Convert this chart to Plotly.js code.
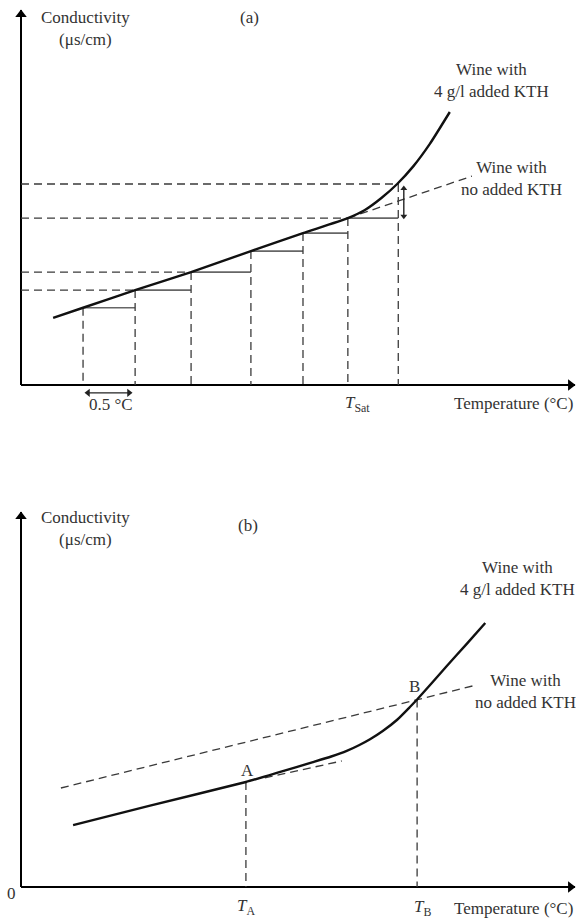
<!DOCTYPE html>
<html>
<head>
<meta charset="utf-8">
<script src="https://cdn.plot.ly/plotly-3.0.1.min.js"></script>
<style>html,body{margin:0;padding:0;background:#fff;}#chart{width:576px;height:920px;}</style>
</head>
<body>
<div id="chart"></div>
<script>
// ---------- Panel (a) data (arbitrary temperature / conductivity units) ----------
const stepT_a = [1.12, 2.06, 3.07, 4.15, 5.09, 5.90, 6.81];      // step temperatures (0.5 °C increments)
const stepC_a = [20.6, 25.3, 30.1, 35.7, 40.5, 44.5, 53.6];      // conductivity read at each step
const guideIdx_a = [1, 2, 5, 6];                                   // steps with dashed guide to the y axis
const curveT_a = [0.58, 1.12, 2.06, 3.07, 4.15, 5.09, 5.90, 6.20, 6.50, 6.79, 7.08, 7.38, 7.74];
const curveC_a = [17.9, 20.6, 25.3, 30.1, 35.7, 40.5, 44.5, 46.6, 49.8, 53.6, 58.3, 64.3, 72.8];
const noKthT_a = [5.90, 8.14];
const noKthC_a = [44.5, 55.7];
const tSat_a = 5.90;
const stepWidthT_a = [1.21, 1.95];   // the "0.5 °C" span marker

// ---------- Panel (b) data ----------
const curveT_b = [0.94, 2.33, 4.06, 4.68, 5.27, 5.60, 5.88, 6.10, 6.30, 6.53, 6.79, 7.02, 7.15, 7.69, 8.05, 8.38];
const curveC_b = [16.5, 21.7, 28.0, 30.7, 33.3, 34.8, 36.3, 37.8, 39.4, 41.6, 44.6, 48.0, 50.0, 59.0, 64.9, 70.4];
const noKthT_b = [0.72, 8.23];
const noKthC_b = [26.4, 53.9];
const tangentT_b = [4.40, 5.79];
const tangentC_b = [29.1, 33.6];
const pointLabels_b = ['A', 'B'];
const pointT_b = [4.06, 7.15];
const pointC_b = [28.0, 50.0];

// axis extents (both panels)
const axisT = [0, 10];
const axisC = [0, 100];

const FONT = 'Liberation Serif, Times New Roman, serif';
const TXT = '#333333';
const DASH = '8px,5px';
const GUIDE = '#3a3a3a';
const FS = 17;

const traces = [];
const skip = {hoverinfo: 'skip', showlegend: false};

function axesFor(xa, ya) {
  // axis lines
  traces.push(Object.assign({x: [axisT[0], axisT[0], null, axisT[0], axisT[1]], y: [axisC[1], axisC[0], null, axisC[0], axisC[0]],
    xaxis: xa, yaxis: ya, mode: 'lines', line: {color: '#000', width: 2}, cliponaxis: false}, skip));
  // arrowheads
  traces.push(Object.assign({x: [axisT[0], axisT[1] - 0.08], y: [axisC[1] - 1.2, axisC[0]], xaxis: xa, yaxis: ya,
    mode: 'markers', marker: {symbol: ['triangle-up', 'triangle-right'], size: 10, color: '#000'}, cliponaxis: false}, skip));
}

// --- panel (a) ---
axesFor('x', 'y');
{
  const x = [], y = [];
  for (let i = 0; i < stepT_a.length - 1; i++) {
    x.push(stepT_a[i], stepT_a[i + 1], null);
    y.push(stepC_a[i], stepC_a[i], null);
  }
  traces.push(Object.assign({x, y, xaxis: 'x', yaxis: 'y', mode: 'lines', line: {color: '#666', width: 1.6}}, skip));
}
{
  const x = [], y = [];
  for (let i = 0; i < stepT_a.length; i++) {
    x.push(stepT_a[i], stepT_a[i], null);
    y.push(stepC_a[i], 0, null);
  }
  traces.push(Object.assign({x, y, xaxis: 'x', yaxis: 'y', mode: 'lines', line: {color: GUIDE, width: 1.3, dash: DASH}}, skip));
}
{
  const x = [], y = [];
  guideIdx_a.forEach(i => { x.push(0, stepT_a[i], null); y.push(stepC_a[i], stepC_a[i], null); });
  traces.push(Object.assign({x, y, xaxis: 'x', yaxis: 'y', mode: 'lines', line: {color: GUIDE, width: 1.3, dash: DASH}}, skip));
}
traces.push(Object.assign({x: noKthT_a, y: noKthC_a, xaxis: 'x', yaxis: 'y', mode: 'lines', line: {color: GUIDE, width: 1.3, dash: DASH}}, skip));
traces.push(Object.assign({x: curveT_a, y: curveC_a, xaxis: 'x', yaxis: 'y', mode: 'lines', line: {color: '#111', width: 2.4, shape: 'spline', smoothing: 0.5}}, skip));
// 0.5 °C double arrow
traces.push(Object.assign({x: stepWidthT_a, y: [-2.1, -2.1], xaxis: 'x', yaxis: 'y', mode: 'lines+markers', cliponaxis: false,
  line: {color: '#222', width: 1.4}, marker: {symbol: ['triangle-left', 'triangle-right'], size: 7, color: '#222'}}, skip));
// vertical double arrow between the two upper readings
const vArrowT = stepT_a[6] + 0.1;
traces.push(Object.assign({x: [vArrowT, vArrowT], y: [stepC_a[5] + 0.5, stepC_a[6] - 1.2], xaxis: 'x', yaxis: 'y', mode: 'lines+markers', cliponaxis: false,
  line: {color: '#222', width: 1.4}, marker: {symbol: ['triangle-down', 'triangle-up'], size: 6, color: '#222'}}, skip));

// --- panel (b) ---
axesFor('x2', 'y2');
traces.push(Object.assign({x: noKthT_b, y: noKthC_b, xaxis: 'x2', yaxis: 'y2', mode: 'lines', line: {color: GUIDE, width: 1.3, dash: DASH}}, skip));
traces.push(Object.assign({x: tangentT_b, y: tangentC_b, xaxis: 'x2', yaxis: 'y2', mode: 'lines', line: {color: GUIDE, width: 1.3, dash: DASH}}, skip));
{
  const x = [], y = [];
  pointT_b.forEach((t, i) => { x.push(t, t, null); y.push(pointC_b[i], 0, null); });
  traces.push(Object.assign({x, y, xaxis: 'x2', yaxis: 'y2', mode: 'lines', line: {color: GUIDE, width: 1.3, dash: DASH}}, skip));
}
traces.push(Object.assign({x: curveT_b, y: curveC_b, xaxis: 'x2', yaxis: 'y2', mode: 'lines', line: {color: '#111', width: 2.4, shape: 'spline', smoothing: 0.5}}, skip));

const hidden = {showgrid: false, zeroline: false, showticklabels: false, showline: false, ticks: '', fixedrange: true};

function txt(xref, yref, x, y, text, extra) {
  return Object.assign({xref, yref, x, y, text, showarrow: false, font: {family: FONT, size: FS, color: TXT}}, extra || {});
}

const annotations = [
  // panel (a)
  txt('x', 'y', 1.16, 95, 'Conductivity<br>(μs/cm)'),
  txt('x', 'y', 4.13, 98.1, '(a)'),
  txt('x', 'y', 8.50, 81.3, 'Wine with<br>4 g/l added KTH'),
  txt('x', 'y', 8.86, 55.2, 'Wine with<br>no added KTH'),
  txt('x', 'y', 1.62, -5.3, '0.5 °C'),
  txt('x', 'y', tSat_a + 0.18, -5.1, '<i>T</i><sub>Sat</sub>'),
  txt('x', 'y', 10.0, -4.8, 'Temperature (°C)', {xanchor: 'right'}),
  // panel (b)
  txt('x2', 'y2', 1.16, 95.5, 'Conductivity<br>(μs/cm)'),
  txt('x2', 'y2', 4.10, 96.3, '(b)'),
  txt('x2', 'y2', 8.96, 82.4, 'Wine with<br>4 g/l added KTH'),
  txt('x2', 'y2', 9.10, 52.2, 'Wine with<br>no added KTH'),
  txt('x2', 'y2', pointT_b[0] + 0.02, pointC_b[0] + 3.2, pointLabels_b[0]),
  txt('x2', 'y2', pointT_b[1] - 0.05, pointC_b[1] + 3.4, pointLabels_b[1]),
  txt('x2', 'y2', pointT_b[0], -5.3, '<i>T</i><sub>A</sub>'),
  txt('x2', 'y2', pointT_b[1] + 0.1, -5.5, '<i>T</i><sub>B</sub>'),
  txt('x2', 'y2', 10.0, -5.6, 'Temperature (°C)', {xanchor: 'right'}),
  txt('x2', 'y2', -0.17, -1.6, '0'),
];

// pixel geometry: 55.4 px per temperature unit, 3.75 px per conductivity unit
const H = 920;
const yA = {range: [-10, 100], topPx: 10};
const yB = {range: [-8.5, 100], topPx: 512};
function domainOf(ax) {
  const bottomPx = ax.topPx + (ax.range[1] - ax.range[0]) * 3.75;
  return [(H - bottomPx) / H, (H - ax.topPx) / H];
}

const layout = {
  width: 576, height: 920,
  margin: {l: 0, r: 1, t: 0, b: 0},
  paper_bgcolor: '#fff', plot_bgcolor: 'rgba(0,0,0,0)',
  showlegend: false,
  xaxis: Object.assign({range: [-21 / 55.4, 10], domain: [0, 1], anchor: 'y'}, hidden),
  yaxis: Object.assign({range: yA.range, domain: domainOf(yA), anchor: 'x'}, hidden),
  xaxis2: Object.assign({range: [-21 / 55.4, 10], domain: [0, 1], anchor: 'y2'}, hidden),
  yaxis2: Object.assign({range: yB.range, domain: domainOf(yB), anchor: 'x2'}, hidden),
  annotations,
};

Plotly.newPlot('chart', traces, layout, {staticPlot: true, displayModeBar: false});
</script>
</body>
</html>
